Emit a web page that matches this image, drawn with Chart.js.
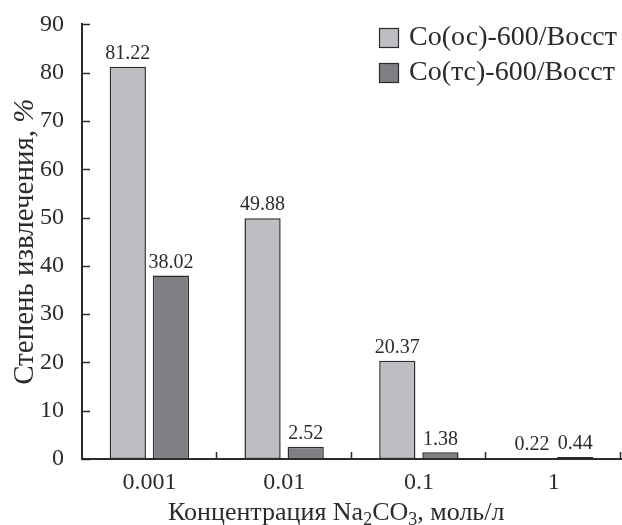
<!DOCTYPE html>
<html lang="ru">
<head>
<meta charset="UTF-8">
<title>Степень извлечения</title>
<script src="https://cdn.jsdelivr.net/npm/chart.js@4.4.0/dist/chart.umd.min.js"></script>
<style>
  html, body { margin: 0; padding: 0; background: #fff; }
  #wrap { width: 622px; height: 525px; }
</style>
</head>
<body>
<div id="wrap"><canvas id="myChart" width="622" height="525"></canvas></div>
<script>
var categories = ['0.001', '0.01', '0.1', '1'];
var seriesNames = ['Co(ос)-600/Восст', 'Co(тс)-600/Восст'];
var osValues = [81.22, 49.88, 20.37, 0.22];
var tsValues = [38.02, 2.52, 1.38, 0.44];
var yTicks = [0, 10, 20, 30, 40, 50, 60, 70, 80, 90];

var serif = '"Liberation Serif", "Times New Roman", serif';
var ink = '#2b2b2b';

// inward tick marks on both axes
var tickMarks = {
    id: 'tickMarks',
    afterDraw: function(chart) {
        var ctx = chart.ctx, a = chart.chartArea;
        var x = chart.scales.x, y = chart.scales.y;
        ctx.save();
        ctx.strokeStyle = ink;
        ctx.lineWidth = 1.5;
        ctx.beginPath();
        y.ticks.forEach(function(t) {
            var py = Math.round(y.getPixelForValue(t.value)) + 0.5;
            ctx.moveTo(a.left, py);
            ctx.lineTo(a.left + 8, py);
        });
        var step = x.getPixelForValue(1) - x.getPixelForValue(0);
        for (var i = 0; i < categories.length; i++) {
            var px = Math.round(x.getPixelForValue(i) + step / 2) - 0.5;
            ctx.moveTo(px, a.bottom);
            ctx.lineTo(px, a.bottom - 7);
        }
        ctx.stroke();
        ctx.restore();
    }
};

// value labels above bars
var valueLabels = {
    id: 'valueLabels',
    afterDatasetsDraw: function(chart) {
        var ctx = chart.ctx;
        ctx.save();
        ctx.font = '20px ' + serif;
        ctx.fillStyle = ink;
        ctx.textAlign = 'center';
        ctx.textBaseline = 'bottom';
        chart.data.datasets.forEach(function(ds, di) {
            chart.getDatasetMeta(di).data.forEach(function(bar, i) {
                ctx.fillText(ds.data[i].toFixed(2), bar.x, bar.y - 3);
            });
        });
        ctx.restore();
    }
};

// legend inside plot, top right
var innerLegend = {
    id: 'innerLegend',
    afterDraw: function(chart) {
        var ctx = chart.ctx;
        ctx.save();
        ctx.font = '28px ' + serif;
        ctx.textBaseline = 'middle';
        ctx.textAlign = 'left';
        chart.data.datasets.forEach(function(ds, i) {
            var cy = 37 + i * 35;
            ctx.fillStyle = ds.backgroundColor;
            ctx.fillRect(379, cy - 9, 20, 20);
            ctx.strokeStyle = ink;
            ctx.lineWidth = 1.2;
            ctx.strokeRect(379.5, cy - 8.5, 19, 19);
            ctx.fillStyle = ink;
            ctx.fillText(ds.label, 409, cy + 1);
        });
        ctx.restore();
    }
};

// axis titles: subscripts on x, italic % on y
var axisTitles = {
    id: 'axisTitles',
    afterDraw: function(chart) {
        var ctx = chart.ctx, a = chart.chartArea;
        var parts = [['Концентрация Na', 0], ['2', 1], ['CO', 0], ['3', 1], [', моль/л', 0]];
        var big = '26px ' + serif, small = '18px ' + serif;
        ctx.save();
        ctx.fillStyle = ink;
        ctx.textBaseline = 'alphabetic';
        var cx = 168;
        parts.forEach(function(p) {
            ctx.font = p[1] ? small : big;
            ctx.fillText(p[0], cx, 520 + (p[1] ? 5 : 0));
            cx += ctx.measureText(p[0]).width;
        });

        var yParts = [['Степень извлечения, ', '29px ' + serif], ['%', 'italic 29px ' + serif]];
        var w = 0;
        yParts.forEach(function(p) { ctx.font = p[1]; w += ctx.measureText(p[0]).width; });
        ctx.translate(33, (a.top + a.bottom) / 2);
        ctx.rotate(-Math.PI / 2);
        var tx = -w / 2;
        yParts.forEach(function(p) {
            ctx.font = p[1];
            ctx.fillText(p[0], tx, 0);
            tx += ctx.measureText(p[0]).width;
        });
        ctx.restore();
    }
};

var ctx = document.getElementById('myChart').getContext('2d');
var chart = new Chart(ctx, {
    type: 'bar',
    data: {
        labels: categories,
        datasets: [
            { label: seriesNames[0], data: osValues, backgroundColor: '#bdbec2', borderColor: ink, borderWidth: 1.5, borderSkipped: false },
            { label: seriesNames[1], data: tsValues, backgroundColor: '#7e7f83', borderColor: ink, borderWidth: 1.5, borderSkipped: false }
        ]
    },
    options: {
        responsive: false,
        animation: false,
        layout: { padding: { top: 24, right: 1, left: 0, bottom: 0 } },
        datasets: { bar: { categoryPercentage: 0.64, barPercentage: 0.84 } },
        plugins: { legend: { display: false }, tooltip: { enabled: false } },
        scales: {
            x: {
                grid: { display: false },
                border: { display: true, color: ink, width: 2 },
                ticks: { color: ink, font: { family: serif, size: 24 }, padding: 1 },
                afterFit: function(s) { s.height = 66; }
            },
            y: {
                min: 0, max: 90,
                afterBuildTicks: function(s) { s.ticks = yTicks.map(function(v) { return { value: v }; }); },
                grid: { display: false },
                border: { display: true, color: ink, width: 2 },
                ticks: { color: ink, font: { family: serif, size: 24 }, padding: 10 },
                afterFit: function(s) { s.width = 82; }
            }
        }
    },
    plugins: [tickMarks, valueLabels, innerLegend, axisTitles]
});
</script>
</body>
</html>
